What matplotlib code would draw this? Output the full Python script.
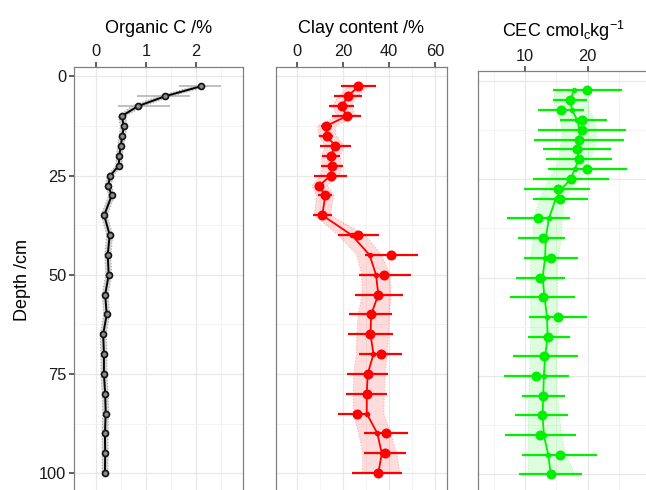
import matplotlib
matplotlib.use("Agg")
import matplotlib.pyplot as plt
from matplotlib.ticker import MultipleLocator
import numpy as np

plt.rcParams['font.family'] = ['Liberation Sans', 'DejaVu Sans']
plt.rcParams['mathtext.fontset'] = 'custom'
plt.rcParams['mathtext.rm'] = 'Liberation Sans'
plt.rcParams['mathtext.it'] = 'Liberation Sans'

# ---- data -------------------------------------------------------------
depth = [2.5, 5, 7.5, 10, 12.5, 15, 17.5, 20, 22.5, 25, 27.5, 30, 35, 40,
         45, 50, 55, 60, 65, 70, 75, 80, 85, 90, 95, 100]

# Organic carbon (%)
oc_obs = [2.09, 1.38, 0.84, 0.52, 0.56, 0.53, 0.50, 0.47, 0.46, 0.29, 0.25,
          0.32, 0.17, 0.28, 0.24, 0.26, 0.19, 0.22, 0.15, 0.165, 0.165, 0.19,
          0.20, 0.185, 0.19, 0.185]
oc_lo = [1.66, 0.82, 0.45, 0.47, 0.51, 0.48, 0.45, 0.42, 0.41, 0.24, 0.20,
         0.27, 0.12, 0.23, 0.19, 0.21, 0.14, 0.17, 0.10, 0.115, 0.115, 0.14,
         0.15, 0.135, 0.14, 0.135]
oc_hi = [2.50, 1.88, 1.48, 0.57, 0.61, 0.58, 0.55, 0.52, 0.51, 0.34, 0.30,
         0.37, 0.22, 0.33, 0.29, 0.31, 0.24, 0.27, 0.20, 0.215, 0.215, 0.24,
         0.25, 0.235, 0.24, 0.235]
oc_fit = oc_obs
oc_band_lo = [1.96, 1.25, 0.72, 0.45, 0.49, 0.47, 0.44, 0.41, 0.40, 0.23,
              0.19, 0.26, 0.11, 0.22, 0.18, 0.20, 0.13, 0.16, 0.09, 0.105,
              0.105, 0.13, 0.14, 0.125, 0.13, 0.125]
oc_band_hi = [2.22, 1.51, 0.96, 0.59, 0.63, 0.59, 0.56, 0.53, 0.52, 0.35,
              0.31, 0.38, 0.23, 0.34, 0.30, 0.32, 0.25, 0.28, 0.21, 0.225,
              0.225, 0.25, 0.26, 0.245, 0.25, 0.245]

# Clay content (%)
clay_obs = [26.7, 22.1, 19.5, 21.6, 12.7, 13.0, 16.6, 14.7, 15.2, 14.7, 9.7,
            12.3, 11.1, 26.7, 40.8, 37.9, 35.3, 32.2, 31.9, 36.4, 30.7, 30.3,
            26.2, 38.5, 38.2, 35.0]
clay_lo = [19.2, 16.2, 14.0, 15.2, 10.5, 9.8, 10.1, 10.8, 10.5, 7.6, 7.9,
           9.4, 7.2, 17.7, 29.6, 27.1, 25.2, 22.4, 22.1, 27.0, 21.6, 21.5,
           18.0, 29.1, 29.1, 23.8]
clay_hi = [34.3, 28.1, 24.9, 27.8, 15.2, 15.8, 23.5, 18.7, 20.2, 21.6, 11.5,
           15.2, 15.2, 35.6, 52.4, 49.4, 45.9, 41.4, 41.6, 45.7, 39.4, 39.1,
           30.3, 48.3, 47.4, 45.7]
clay_fit = [26.7, 22.1, 19.5, 21.6, 12.7, 13.0, 16.6, 14.7, 15.2, 14.7, 9.7,
            12.3, 11.1, 23.8, 31.5, 34.3, 35.3, 32.2, 31.9, 33.2, 30.7, 30.3,
            30.3, 34.9, 36.8, 35.3]
clay_band_lo = [22.5, 18.0, 15.5, 17.5, 9.2, 9.4, 12.5, 10.6, 11.0, 10.4,
                6.5, 8.6, 7.6, 18.0, 26.0, 28.1, 28.3, 26.6, 26.0, 25.8, 24.6,
                24.5, 24.5, 26.8, 28.6, 28.4]
clay_band_hi = [31.0, 26.2, 23.5, 25.7, 16.8, 17.0, 20.7, 18.8, 19.4, 18.6,
                13.3, 16.0, 14.6, 29.6, 36.8, 40.4, 40.8, 40.0, 39.7, 39.2,
                38.2, 37.9, 37.7, 40.6, 43.3, 44.7]

# Cation exchange capacity (cmolc/kg)
cec_obs = [19.9, 17.2, 15.7, 19.1, 19.0, 18.6, 18.3, 18.6, 19.9, 17.3, 15.3,
           15.6, 12.1, 12.8, 14.1, 12.4, 12.8, 15.2, 13.7, 13.1, 11.75, 12.9,
           12.7, 12.45, 15.5, 14.1]
cec_lo = [14.4, 14.5, 12.0, 15.5, 12.0, 11.4, 12.8, 13.3, 13.6, 11.3, 9.9,
          11.2, 7.1, 8.9, 9.8, 8.5, 7.6, 10.6, 10.4, 8.0, 6.7, 9.5, 8.4, 6.8,
          9.5, 9.0]
cec_hi = [25.4, 19.9, 19.4, 23.0, 26.1, 25.7, 23.7, 23.8, 26.2, 23.4, 20.3,
          20.0, 17.1, 16.4, 18.5, 16.3, 18.0, 19.8, 17.1, 18.4, 17.0, 16.4,
          16.8, 18.1, 21.5, 19.0]
cec_fit = [17.8, 17.2, 17.5, 18.3, 18.7, 18.7, 18.3, 18.6, 17.9, 17.3, 15.8,
           14.9, 13.8, 13.3, 13.2, 12.8, 13.1, 13.5, 13.6, 13.2, 13.0, 12.9,
           12.8, 13.0, 13.7, 14.1]
cec_band_lo = [14.8, 14.5, 14.8, 15.6, 15.9, 15.9, 15.5, 15.5, 14.8, 13.9,
               13.0, 12.4, 11.3, 11.3, 10.9, 10.9, 10.9, 10.9, 10.9, 10.8,
               10.7, 10.6, 10.5, 10.5, 10.5, 10.5]
cec_band_hi = [20.3, 20.0, 20.3, 21.0, 21.4, 21.4, 21.0, 20.4, 19.8, 18.8,
               17.4, 16.4, 15.9, 15.8, 15.3, 15.2, 15.2, 15.3, 15.3, 15.1,
               15.0, 15.2, 15.5, 15.8, 16.5, 18.0]

titles = ["Organic C /%", "Clay content /%",
          r"CEC cmol$_\mathregular{c}$kg$^\mathregular{-1}$"]
x_ticks = [[0, 1, 2], [0, 20, 40, 60], [10, 20]]
depth_ticks = [0, 25, 50, 75, 100]

# ---- layout -------------------------------------------------------------
W, H = 646, 490
fig = plt.figure(figsize=(W / 100, H / 100), dpi=100)


def px_axes(left, top, right, bottom):
    return fig.add_axes([left / W, 1 - bottom / H, (right - left) / W,
                         (bottom - top) / H])


axes = [px_axes(74, 67, 243, 492.5),
        px_axes(275.7, 67, 446.5, 492.5),
        px_axes(478, 71.2, 648, 493.7)]
xlims = [(-0.43, 2.93), (-9.1, 64.8), (2.5, 29.6)]
minor_steps = [0.5, 10, 5]

for i, ax in enumerate(axes):
    ax.set_xlim(*xlims[i])
    ax.set_ylim(104.875, -2.375)
    ax.xaxis.tick_top()
    ax.xaxis.set_label_position('top')
    ax.set_xticks(x_ticks[i])
    ax.xaxis.set_minor_locator(MultipleLocator(minor_steps[i]))
    ax.set_yticks(depth_ticks)
    ax.yaxis.set_minor_locator(MultipleLocator(12.5))
    ax.grid(True, which='major', color='#e8e8e8', lw=0.9, zorder=0)
    ax.grid(True, which='minor', color='#f2f2f2', lw=0.6, zorder=0)
    ax.set_axisbelow(True)
    ax.tick_params(axis='x', which='major', direction='out', length=3.5,
                   width=1.1, color='#333333', labelsize=11.8, pad=2,
                   labelcolor='#1a1a1a')
    ax.tick_params(which='minor', length=0)
    for s in ax.spines.values():
        s.set_color('#808080')
        s.set_linewidth(0.9)
    ax.set_xlabel(titles[i], fontsize=13, labelpad=8)
    if i == 0:
        ax.tick_params(axis='y', which='major', direction='out', length=3.5,
                       width=1.1, color='#333333', labelsize=11.8, pad=2,
                       labelcolor='#1a1a1a')
        ax.set_ylabel("Depth /cm", fontsize=13, labelpad=6)
    else:
        ax.tick_params(axis='y', which='major', length=0, labelleft=False)


def band(ax, lo, hi, rgb, alpha):
    ax.fill_betweenx(depth, lo, hi, facecolor=rgb + (alpha,),
                     edgecolor='none', zorder=1)
    ax.plot(lo, depth, ls=':', lw=0.8, color=rgb + (alpha * 1.8,), zorder=1)
    ax.plot(hi, depth, ls=':', lw=0.8, color=rgb + (alpha * 1.8,), zorder=1)


# Organic C panel
ax = axes[0]
band(ax, oc_band_lo, oc_band_hi, (0.45, 0.45, 0.45), 0.3)
ax.hlines(depth, oc_lo, oc_hi, color='#b5b5b5', lw=1.2, zorder=2)
ax.plot(oc_fit, depth, color='black', lw=1.4, zorder=3)
ax.plot(oc_obs, depth, ls='none', marker='o', ms=4.3, mfc='#8a8a8a',
        mec='#111111', mew=1.2, zorder=4)

# Clay panel
ax = axes[1]
red = (1.0, 0.0, 0.0)
band(ax, clay_band_lo, clay_band_hi, red, 0.14)
ax.hlines(depth, clay_lo, clay_hi, color='#ff0000', lw=1.6, zorder=2)
ax.plot(clay_fit, depth, color='#ff0000', lw=1.3, marker='o', ms=3,
        zorder=3)
ax.plot(clay_obs, depth, ls='none', marker='o', ms=6.2, color='#ff0000',
        zorder=4)

# CEC panel
ax = axes[2]
green = (0.0, 0.95, 0.0)
band(ax, cec_band_lo, cec_band_hi, green, 0.13)
ax.hlines(depth, cec_lo, cec_hi, color='#00f000', lw=1.6, zorder=2)
ax.plot(cec_fit, depth, color='#00f000', lw=1.3, marker='o', ms=3,
        zorder=3)
ax.plot(cec_obs, depth, ls='none', marker='o', ms=6.2, color='#00f000',
        zorder=4)

fig.savefig("out.png", dpi=100)
